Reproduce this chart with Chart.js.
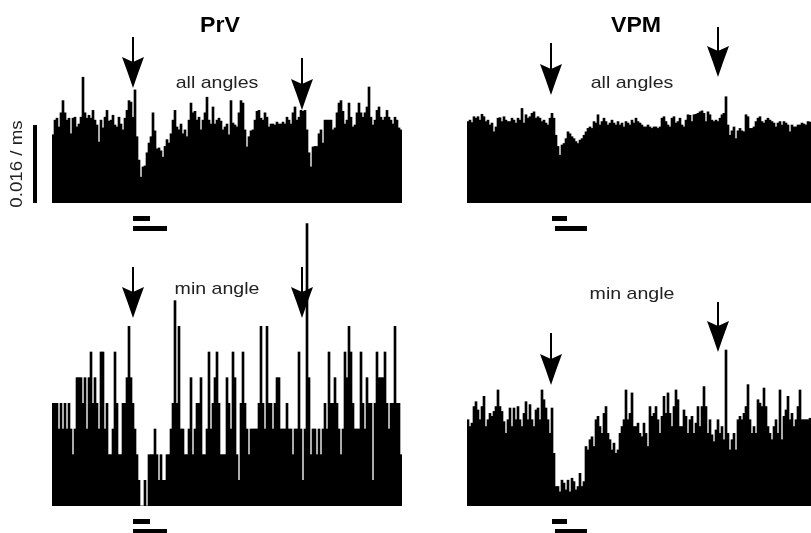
<!DOCTYPE html>
<html>
<head>
<meta charset="utf-8">
<script src="https://cdn.jsdelivr.net/npm/chart.js@4/dist/chart.umd.min.js"></script>
<style>
  html, body { margin: 0; padding: 0; background: #fff; }
  #wrap { position: relative; width: 811px; height: 533px; overflow: hidden; }
  #wrap canvas { position: absolute; left: 0; top: 0; }
</style>
</head>
<body>
<div id="wrap">
  <canvas id="prvAll" width="830" height="533"></canvas>
  <canvas id="vpmAll" width="830" height="533"></canvas>
  <canvas id="prvMin" width="830" height="533"></canvas>
  <canvas id="vpmMin" width="830" height="533"></canvas>
</div>
<script>
// PSTH bins (2 px each in the figure), 175 per panel
const bins = Array.from({ length: 175 }, (_, i) => i);

// all angles, spikes/s per bin (scale bar = 0.016 / ms = 16)
const prvAllRate = [
  14, 17, 17.4, 15.6, 18.5, 21, 18.5, 17, 17.4, 14.2,
  17.4, 17.6, 15.6, 16.2, 17.6, 25.8, 18.5, 17.4, 18, 17.4,
  19, 17, 16, 12.5, 17, 15.4, 17.6, 19, 16.8, 17,
  18, 16, 15.6, 17.6, 16.2, 15, 17.4, 19, 21, 20.7,
  17.6, 23.2, 13.6, 8.8, 5.3, 7.4, 7.6, 10.3, 12.3, 13.6,
  18.5, 14.8, 11.1, 11.3, 10.7, 9.4, 11.6, 13, 12.3, 14.2,
  17, 19, 15.6, 15, 16.2, 14.2, 15, 13.6, 17, 20.5,
  18.5, 18.8, 17, 17.6, 15, 17, 18.5, 21.7, 17, 16.2,
  19.7, 16.2, 17, 17.4, 16.8, 15, 15.6, 16.2, 14, 21,
  16.4, 16, 15.6, 18.5, 21, 20.5, 15, 11.5, 13.6, 14.8,
  15, 17, 18.8, 19, 17.4, 17, 18.5, 17.6, 15.6, 16.2,
  16.2, 16, 16.6, 16.2, 16.2, 16.6, 16.2, 17.6, 17, 16.2,
  18.5, 19.7, 17, 17.6, 19, 18.8, 19, 15, 10.3, 7.4,
  11.5, 11.6, 11.6, 14.2, 15, 12.3, 17, 17, 17, 17,
  15, 15.4, 18.5, 20.5, 21, 18.8, 16.2, 17, 20.5, 17.6,
  15.6, 16, 18.5, 20.5, 18.5, 17.6, 18.5, 19.7, 23.8, 17.6,
  16, 17, 19, 19.7, 17.6, 17, 17.6, 19, 17.6, 17,
  16.2, 17.6, 17, 15.4, 15
];
const vpmAllRate = [
  16.7, 17, 16.5, 17.7, 17.4, 17.7, 17, 18.2, 17.7, 16.7,
  17, 16, 16.4, 14.6, 15.6, 17.4, 17.5, 16.7, 17.7, 17,
  16.7, 16.7, 17.4, 17, 16.4, 17.4, 17, 19.4, 16.4, 18.1,
  17.4, 17.7, 18.4, 18.7, 17.4, 17.7, 17.4, 16.7, 17, 16.4,
  16, 17.4, 18.4, 17.4, 13.9, 11.6, 9.8, 11.9, 12.2, 13.2,
  14.6, 14.2, 13.6, 13.2, 12.6, 12.2, 12.9, 13.2, 13.9, 14.6,
  15.3, 15.6, 15.3, 16.7, 16.4, 18.1, 16, 16.7, 17.4, 16.7,
  16, 16.4, 17, 16.4, 16, 16.7, 16, 16.4, 15.6, 16.7,
  16.4, 16, 17, 16.4, 17.4, 16.7, 16.4, 16, 15.6, 15.6,
  16, 15.6, 15.3, 15.6, 15.6, 15.3, 15.6, 17.4, 17.7, 16.7,
  16, 15.6, 17.4, 17.7, 16.4, 16.7, 17.4, 16, 15.6, 17,
  18.1, 18, 16.7, 18.1, 18.2, 18.4, 18.7, 18.9, 18.4, 16.7,
  18.7, 18.1, 17, 16.7, 17, 16.7, 17.4, 18.1, 18.4, 21.8,
  16, 13.9, 14.8, 15.6, 13.2, 14.8, 15.3, 14.8, 14.6, 18.1,
  17.7, 15.3, 15.3, 15.6, 16.7, 17.4, 17.7, 16.7, 16.4, 17,
  17.4, 17, 16.7, 16.4, 15.6, 16.4, 16.7, 16, 16.7, 16.4,
  16, 14.6, 16, 15.6, 15.6, 16, 16, 16.4, 16.2, 16,
  16.7, 16.6, 16.4, 16.5, 16.3
];

// min angle: PrV as spike counts per bin, VPM as spikes/s
const prvMinCount = [
  4, 4, 4, 3, 4, 3, 4, 3, 4, 3,
  2, 3, 5, 5, 5, 4, 5, 3, 5, 6,
  4, 5, 4, 3, 6, 6, 3, 4, 2, 2,
  3, 6, 4, 2, 2, 4, 4, 5, 7, 5,
  4, 3, 2, 1, 0, 0, 1, 0, 2, 2,
  2, 3, 2, 1, 2, 1, 1, 2, 2, 3,
  4, 8, 4, 7, 3, 3, 2, 2, 3, 5,
  2, 3, 4, 4, 5, 2, 2, 3, 6, 3,
  4, 5, 6, 4, 2, 2, 2, 5, 4, 3,
  6, 5, 2, 1, 4, 6, 4, 3, 2, 3,
  3, 3, 3, 4, 7, 4, 3, 7, 4, 4,
  3, 4, 5, 5, 3, 3, 3, 4, 3, 3,
  2, 3, 3, 6, 3, 1, 3, 11, 5, 2,
  3, 3, 2, 3, 2, 3, 4, 3, 6, 4,
  4, 5, 4, 3, 2, 3, 6, 5, 7, 6,
  4, 3, 3, 3, 6, 4, 3, 5, 4, 4,
  1, 4, 6, 5, 5, 5, 6, 4, 3, 4,
  4, 7, 4, 4, 2
];
const vpmMinRate = [
  17.7, 16.3, 17, 20.4, 21.4, 19.7, 17.7, 20.4, 22.5, 16.3,
  17.7, 19, 18.4, 19.4, 20.4, 23.8, 20.4, 19.4, 17.3, 14.9,
  17.7, 20.1, 16.3, 20.1, 17.7, 20.4, 17.7, 16.3, 19, 21.4,
  17.7, 20.8, 17.7, 16.3, 19.7, 20.1, 17.7, 23.8, 21.8, 20.1,
  17.7, 14.9, 20.1, 10.8, 4, 4, 2.9, 5.3, 4.7, 3.3,
  5.3, 2.9, 5.7, 5, 3.3, 4, 6.7, 4, 5, 12.2,
  11.5, 13.6, 14.2, 12.2, 17.7, 18.4, 16.3, 14.9, 19, 20.4,
  14.9, 13.6, 11.5, 12.9, 10.8, 11.5, 14.9, 16.3, 17.7, 23.8,
  17.7, 19, 23.2, 16.3, 16.3, 17, 14.9, 14.2, 17, 14.9,
  12.2, 20.4, 18.4, 19, 20.4, 17.7, 14.9, 18.4, 22.5, 19,
  23.2, 19, 16.3, 20.4, 23.8, 21.8, 16.3, 16.3, 19.7, 18.4,
  14.9, 17.7, 18.4, 14.9, 17, 20.4, 16.3, 20.4, 24.5, 20.4,
  14.9, 17.7, 14.6, 13.2, 15.6, 17.7, 14.9, 16.3, 13.6, 32,
  14.9, 11.5, 13.6, 14.9, 11.5, 17.7, 18.4, 17.7, 19, 20.4,
  24.9, 17.7, 14.9, 16.3, 14.9, 21.8, 21.1, 20.4, 24.2, 20.4,
  16.3, 14.9, 13.6, 16.3, 17.7, 14.9, 23.8, 13.6, 18.4, 19.7,
  22.5, 17.7, 19, 16.3, 17.7, 20.4, 23.8, 17.7, 17.7, 17.7,
  17.7, 18, 17.7, 17.5, 17.7
];

// arrows and stimulus bars, in bin units
const prvArrowBins = [40, 124.5];
const vpmArrowBins = [41.5, 125];
const prvStimShort = [40.5, 49];
const prvStimLong = [40.5, 57.5];
const vpmStimShort = [42.5, 50];
const vpmStimLong = [44, 60];
const scaleBarRate = 16;

const FONT = '"Liberation Sans", Arial, Helvetica, sans-serif';

function drawText(ctx, text, x, y, font, sx, angle) {
  ctx.save();
  ctx.translate(x, y);
  if (angle) ctx.rotate(angle);
  ctx.scale(sx, 1);
  ctx.font = font;
  ctx.textAlign = 'center';
  ctx.textBaseline = angle ? 'middle' : 'alphabetic';
  ctx.fillText(text, 0, 0);
  ctx.restore();
}

function drawArrow(ctx, x, top, tip) {
  const headLen = 31, halfW = 11;
  ctx.fillRect(x - 1, top, 2, tip - top - 12);
  ctx.beginPath();
  ctx.moveTo(x, tip);
  ctx.quadraticCurveTo(x - 5, tip - 15, x - halfW, tip - headLen);
  ctx.lineTo(x, tip - headLen + 5);
  ctx.lineTo(x + halfW, tip - headLen);
  ctx.quadraticCurveTo(x + 5, tip - 15, x, tip);
  ctx.closePath();
  ctx.fill();
}

const panelMarks = {
  id: 'panelMarks',
  afterDraw(chart, args, opts) {
    const { ctx, chartArea } = chart;
    const xs = chart.scales.x, ys = chart.scales.y;
    ctx.save();
    ctx.fillStyle = '#000';
    if (opts.title) {
      drawText(ctx, opts.title, opts.titleX, 32, 'bold 22px ' + FONT, 1.05);
    }
    ctx.fillStyle = '#222';
    drawText(ctx, opts.label, opts.labelX, opts.labelY, '17px ' + FONT, 1.15);
    ctx.fillStyle = '#000';
    opts.arrowBins.forEach((b, k) => {
      drawArrow(ctx, xs.getPixelForValue(b), opts.arrowTops[k], opts.arrowTips[k]);
    });
    // stimulus bars under the histogram
    [[opts.stimShort, 13], [opts.stimLong, 23]].forEach(([r, off]) => {
      const x0 = xs.getPixelForValue(r[0] - 0.5);
      const x1 = xs.getPixelForValue(r[1] - 0.5);
      ctx.fillRect(x0, chartArea.bottom + off, x1 - x0, 5);
    });
    if (opts.scaleBar) {
      const y0 = ys.getPixelForValue(0), y1 = ys.getPixelForValue(scaleBarRate);
      ctx.fillRect(33, y1, 4, y0 - y1);
      ctx.fillStyle = '#222';
      drawText(ctx, '0.016 / ms', 17, (y0 + y1) / 2, '17px ' + FONT, 1.1, -Math.PI / 2);
    }
    ctx.restore();
  }
};

function makePanel(id, values, yMax, padding, marks) {
  new Chart(document.getElementById(id), {
    type: 'bar',
    data: {
      labels: bins,
      datasets: [{
        data: values,
        backgroundColor: '#000',
        borderWidth: 0,
        barPercentage: 1,
        categoryPercentage: 1
      }]
    },
    options: {
      responsive: false,
      animation: false,
      devicePixelRatio: 1,
      layout: { padding },
      scales: {
        x: { display: false },
        y: { display: false, min: 0, max: yMax }
      },
      plugins: {
        legend: { display: false },
        tooltip: { enabled: false },
        panelMarks: marks
      }
    },
    plugins: [panelMarks]
  });
}

makePanel('prvAll', prvAllRate, 32, { left: 52, right: 428, top: 47, bottom: 330 }, {
  title: 'PrV', titleX: 220, label: 'all angles', labelX: 217, labelY: 88,
  arrowBins: prvArrowBins, arrowTops: [37, 58], arrowTips: [88, 110],
  stimShort: prvStimShort, stimLong: prvStimLong, scaleBar: true
});
makePanel('vpmAll', vpmAllRate, 32, { left: 467, right: 13, top: 47, bottom: 330 }, {
  title: 'VPM', titleX: 636, label: 'all angles', labelX: 632, labelY: 88,
  arrowBins: vpmArrowBins, arrowTops: [43, 27], arrowTips: [95, 77],
  stimShort: vpmStimShort, stimLong: vpmStimLong
});
makePanel('prvMin', prvMinCount, 12, { left: 52, right: 428, top: 198, bottom: 27 }, {
  label: 'min angle', labelX: 217, labelY: 294,
  arrowBins: prvArrowBins, arrowTops: [267, 267], arrowTips: [318, 318],
  stimShort: prvStimShort, stimLong: prvStimLong
});
makePanel('vpmMin', vpmMinRate, 40, { left: 467, right: 13, top: 311, bottom: 27 }, {
  label: 'min angle', labelX: 632, labelY: 299,
  arrowBins: vpmArrowBins, arrowTops: [333, 302], arrowTips: [385, 352],
  stimShort: vpmStimShort, stimLong: vpmStimLong
});
</script>
</body>
</html>
